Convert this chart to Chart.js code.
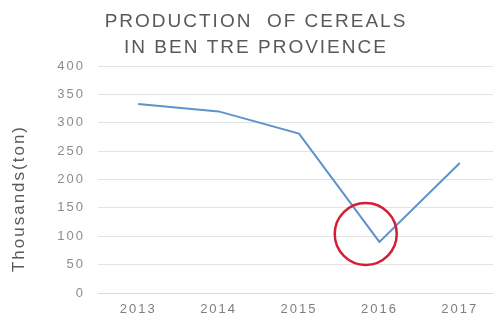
<!DOCTYPE html>
<html>
<head>
<meta charset="utf-8">
<script src="https://cdn.jsdelivr.net/npm/chart.js@4/dist/chart.umd.min.js"></script>
<style>
  html, body { margin: 0; padding: 0; background: #fff; overflow: hidden; }
  canvas { display: block; }
</style>
</head>
<body>
<canvas id="chart" width="500" height="318"></canvas>
<script>
// Данные графика
const years = ['2013', '2014', '2015', '2016', '2017'];
const production = [333, 320, 281, 90, 229];
const yTicks = [0, 50, 100, 150, 200, 250, 300, 350, 400];
const titleLines = ['PRODUCTION  OF CEREALS', 'IN BEN TRE PROVIENCE'];
const yAxisLabel = 'Thousands(ton)';

// Красный круг вокруг минимума 2016 года
const highlight = { index: 2.83, value: 104, radius: 31 };

const FONT = 'Liberation Sans, Arial, sans-serif';

// Разрядка букв как в оригинале (Excel-картинка)
const spacingPlugin = {
    id: 'letterSpacing',
    beforeUpdate(chart) { chart.ctx.letterSpacing = '2px'; },
    beforeDraw(chart) { chart.ctx.letterSpacing = '2px'; }
};

// Заголовок и подпись оси Y
const textPlugin = {
    id: 'texts',
    afterDraw(chart) {
        const { ctx, chartArea } = chart;
        ctx.save();
        ctx.fillStyle = '#595959';
        ctx.textAlign = 'center';
        ctx.textBaseline = 'middle';
        ctx.font = '19px ' + FONT;
        titleLines.forEach((line, i) => {
            ctx.fillText(line, chart.width / 2 + 6, 22 + i * 26);
        });
        const cy = (chartArea.top + chartArea.bottom) / 2 + 19;
        ctx.translate(19, cy);
        ctx.rotate(-Math.PI / 2);
        ctx.font = '17px ' + FONT;
        ctx.fillText(yAxisLabel, 0, 0);
        ctx.restore();
    }
};

const circlePlugin = {
    id: 'circleMark',
    afterDatasetsDraw(chart) {
        const { ctx, scales } = chart;
        const cx = scales.x.getPixelForValue(highlight.index);
        const cy = scales.y.getPixelForValue(highlight.value);
        ctx.save();
        ctx.beginPath();
        ctx.arc(cx, cy, highlight.radius, 0, Math.PI * 2);
        ctx.strokeStyle = '#d21f35';
        ctx.lineWidth = 2.5;
        ctx.stroke();
        ctx.restore();
    }
};

new Chart(document.getElementById('chart'), {
    type: 'line',
    data: {
        labels: years,
        datasets: [{
            data: production,
            borderColor: '#5d93cc',
            borderWidth: 2,
            pointRadius: 0,
            tension: 0
        }]
    },
    options: {
        responsive: false,
        animation: false,
        layout: { padding: { left: 40, right: 0, top: 66, bottom: 0 } },
        plugins: {
            legend: { display: false },
            tooltip: { enabled: false },
            title: { display: false }
        },
        scales: {
            x: {
                offset: true,
                afterFit(scale) { scale.height = 25; },
                grid: { display: false, drawTicks: false },
                border: { display: true, color: '#d9d9d9' },
                ticks: {
                    color: '#7f7f7f',
                    font: { family: FONT, size: 13 },
                    padding: 9
                }
            },
            y: {
                min: 0,
                max: 400,
                afterBuildTicks(axis) {
                    axis.ticks = yTicks.map(v => ({ value: v }));
                },
                afterFit(scale) { scale.width = 58; },
                grid: { color: '#e3e3e3', drawTicks: false },
                border: { display: false },
                ticks: {
                    color: '#8c8c8c',
                    font: { family: FONT, size: 13 },
                    padding: 13
                }
            }
        }
    },
    plugins: [spacingPlugin, textPlugin, circlePlugin]
});
</script>
</body>
</html>
